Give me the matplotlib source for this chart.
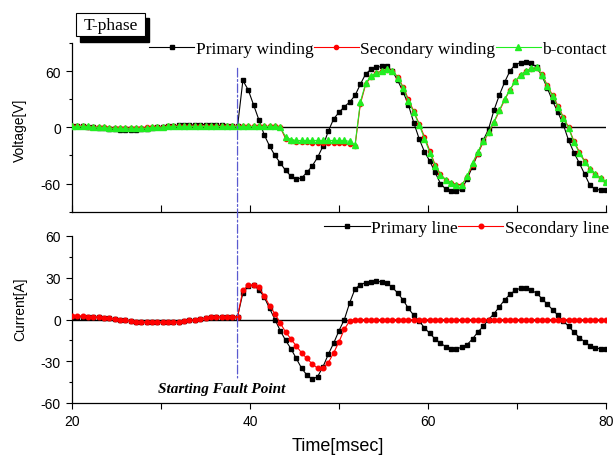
import matplotlib
matplotlib.use("Agg")
import matplotlib.pyplot as plt
from matplotlib.patches import ConnectionPatch, Rectangle
from matplotlib.ticker import MultipleLocator

plt.rcParams['axes.unicode_minus'] = False
plt.rcParams['font.family'] = ['Liberation Sans', 'DejaVu Sans']

# ---------------- data ----------------
time_ms = [20.0, 20.6, 21.2, 21.8, 22.4, 23.0, 23.6, 24.2, 24.8, 25.4, 26.0, 26.6, 27.2, 27.8,
           28.4, 29.0, 29.6, 30.2, 30.8, 31.4, 32.0, 32.6, 33.2, 33.8, 34.4, 35.0, 35.6, 36.2,
           36.8, 37.4, 38.0, 38.6, 39.2, 39.8, 40.4, 41.0, 41.6, 42.2, 42.8, 43.4, 44.0, 44.6,
           45.2, 45.8, 46.4, 47.0, 47.6, 48.2, 48.8, 49.4, 50.0, 50.6, 51.2, 51.8, 52.4, 53.0,
           53.6, 54.2, 54.8, 55.4, 56.0, 56.6, 57.2, 57.8, 58.4, 59.0, 59.6, 60.2, 60.8, 61.4,
           62.0, 62.6, 63.2, 63.8, 64.4, 65.0, 65.6, 66.2, 66.8, 67.4, 68.0, 68.6, 69.2, 69.8,
           70.4, 71.0, 71.6, 72.2, 72.8, 73.4, 74.0, 74.6, 75.2, 75.8, 76.4, 77.0, 77.6, 78.2,
           78.8, 79.4, 80.0]

fault_time = 38.6

v_primary_winding = [1, 1, 1, 0, 0, -1, -1, -2, -2, -3, -3, -3, -3, -2, -2, -1, 0, 0, 1, 1, 2, 2, 2, 3,
                     3, 3, 3, 2, 2, 1, 1, 1,
                     50, 40, 24, 8, -8, -20, -30, -38, -46, -52, -55, -54, -48, -41, -32, -20, -4, 9,
                     16, 22, 27, 34, 46, 57, 62, 64, 65, 65, 60, 50, 38, 24, 5, -12, -26, -36, -48,
                     -60, -66, -68, -68, -66, -55, -42, -28, -14, -2, 18, 34, 48, 60, 67, 69, 70, 69,
                     64, 55, 42, 28, 16, 3, -14, -27, -38, -50, -62, -66, -67, -67]

v_secondary_winding = [1, 1, 1, 0, 0, 0, 0, -1, -1, -1, -1, -1, -1, -1, 0, 0, 0, 0, 1, 1, 1, 1, 1, 1,
                       1, 1, 1, 1, 1, 1, 1, 1,
                       1, 1, 1, 1, 1, 1, 1, 0, -12, -15, -16, -16, -16, -17, -17, -17, -17, -17,
                       -17, -17, -18, -20, 25, 46, 54, 58, 60, 61, 60, 54, 43, 30, 17, 4, -10, -25,
                       -40, -50, -56, -59, -61, -61, -53, -40, -28, -16, -6, 5, 17, 29, 40, 49, 56,
                       60, 62, 63, 57, 45, 34, 23, 11, 0, -15, -26, -36, -44, -50, -54, -58]

v_b_contact = [1, 1, 1, 1, 0, 0, 0, -1, -1, -1, -1, -1, -1, -1, -1, 0, 0, 0, 1, 1, 1, 1, 1, 1,
               1, 1, 1, 1, 1, 1, 1, 1,
               1, 1, 1, 1, 1, 1, 1, 0, -10, -13, -14, -14, -14, -14, -14, -14, -14, -14, -14, -14,
               -15, -19, 27, 47, 55, 58, 60, 62, 60, 53, 42, 28, 16, 3, -12, -27, -41, -51, -56,
               -59, -62, -62, -52, -38, -26, -15, -5, 6, 18, 30, 40, 49, 56, 60, 63, 64, 56, 44,
               33, 22, 10, -1, -16, -27, -37, -44, -50, -54, -58]

i_primary_line = [2, 2, 2, 2, 2, 1.5, 1, 1, 0.5, 0, -0.5, -1, -1.5, -2, -2, -2, -2, -2, -2, -2,
                  -1.5, -1, -0.5, 0, 0.5, 1, 1.5, 2, 2, 2, 2, 2,
                  19, 24, 24.7, 21.5, 16, 8, 0, -8, -15, -21, -28, -35, -40, -43, -41, -34, -25,
                  -17, -8, 0, 12, 22, 25, 26.5, 27, 27.5, 27, 26, 23, 19, 14, 8, 3, -1, -6, -10,
                  -14, -17, -19.5, -21, -21, -20, -18, -14, -9, -5, 0, 4, 9, 14, 18, 21, 22.5,
                  22.5, 21, 19, 15, 11, 7, 3, -1, -5, -9, -13, -16, -19, -20.5, -21, -21]

i_secondary_line = [2.5, 2.5, 2.5, 2, 2, 1.5, 1, 1, 0.5, 0, -0.5, -1, -1.5, -2, -2, -2, -2, -2, -2,
                    -2, -1.5, -1, -0.5, 0, 0.5, 1, 1.5, 2, 2, 2, 2, 2,
                    21, 24.5, 25, 23, 17, 10, 4, -2.5, -9, -14, -19, -24, -28, -32, -35, -35, -31,
                    -24, -16, -7, -1, 0, 0, 0, 0, 0, 0, 0, 0, 0, 0, 0, 0, 0, 0, 0, 0, 0, 0, 0, 0,
                    0, 0, 0, 0, 0, 0, 0, 0, 0, 0, 0, 0, 0, 0, 0, 0, 0, 0, 0, 0, 0, 0, 0, 0, 0, 0,
                    0, 0]

voltage_labels = ['Primary winding', 'Secondary winding', 'b-contact']
current_labels = ['Primary line', 'Secondary line']

# ---------------- figure ----------------
W, H = 614, 464
fig = plt.figure(figsize=(W / 100, H / 100), dpi=100)

def fx(px):
    return px / W

def fy(py):
    return 1 - py / H

ax1 = fig.add_axes([fx(72), fy(212.7), fx(606) - fx(72), fy(44) - fy(212.7)])
ax2 = fig.add_axes([fx(72), fy(404), fx(606) - fx(72), fy(237) - fy(404)])

serif = ['Liberation Serif', 'DejaVu Serif']
lw = 0.8
green = '#22ee22'

# top panel
ax1.plot(time_ms, v_primary_winding, color='black', lw=lw, marker='s', ms=3.2,
         label=voltage_labels[0], zorder=3)
ax1.plot(time_ms, v_secondary_winding, color='red', lw=lw, marker='o', ms=3.0,
         label=voltage_labels[1], zorder=4)
ax1.plot(time_ms, v_b_contact, color=green, lw=lw, marker='^', ms=4.2,
         markeredgecolor=green, markerfacecolor=green, label=voltage_labels[2], zorder=5)
ax1.axhline(0, color='black', lw=1.0, zorder=2)
ax1.set_xlim(20, 80)
ax1.set_ylim(-90, 90)
ax1.yaxis.set_major_locator(MultipleLocator(60))
ax1.yaxis.set_minor_locator(MultipleLocator(30))
ax1.xaxis.set_major_locator(MultipleLocator(20))
ax1.xaxis.set_minor_locator(MultipleLocator(10))
ax1.tick_params(axis='x', which='both', direction='in', length=5, width=0.8, labelbottom=False)
ax1.tick_params(axis='y', which='major', direction='out', length=4, width=0.8, labelsize=10, pad=4)
ax1.tick_params(axis='y', which='minor', direction='out', length=2.5, width=0.8)
for s in ['top', 'right']:
    ax1.spines[s].set_visible(False)
for s in ['left', 'bottom']:
    ax1.spines[s].set_linewidth(0.9)

leg1 = ax1.legend(loc='upper right', bbox_to_anchor=(fx(607), fy(42)),
                  bbox_transform=fig.transFigure, ncol=3, frameon=False,
                  prop={'family': serif, 'size': 12.5}, handlelength=2.6,
                  handletextpad=0.1, columnspacing=0.0, borderpad=0, borderaxespad=0)

# bottom panel
ax2.plot(time_ms, i_primary_line, color='black', lw=lw, marker='s', ms=3.2,
         label=current_labels[0], zorder=3)
ax2.plot(time_ms, i_secondary_line, color='red', lw=lw, marker='o', ms=3.3,
         label=current_labels[1], zorder=4)
ax2.axhline(0, color='black', lw=1.0, zorder=2)
ax2.set_xlim(20, 80)
ax2.set_ylim(-60, 60)
ax2.yaxis.set_major_locator(MultipleLocator(30))
ax2.yaxis.set_minor_locator(MultipleLocator(15))
ax2.xaxis.set_major_locator(MultipleLocator(20))
ax2.xaxis.set_minor_locator(MultipleLocator(10))
ax2.tick_params(axis='x', which='both', direction='out', length=4, width=0.8, labelsize=10, pad=4)
ax2.tick_params(axis='y', which='major', direction='out', length=4, width=0.8, labelsize=10, pad=4)
ax2.tick_params(axis='y', which='minor', direction='out', length=2.5, width=0.8)
for s in ['top', 'right']:
    ax2.spines[s].set_visible(False)
for s in ['left', 'bottom']:
    ax2.spines[s].set_linewidth(0.9)

leg2 = ax2.legend(loc='upper right', bbox_to_anchor=(fx(609), fy(221)),
                  bbox_transform=fig.transFigure, ncol=2, frameon=False,
                  prop={'family': serif, 'size': 12.5}, handlelength=2.6,
                  handletextpad=0.1, columnspacing=0.0, borderpad=0, borderaxespad=0)

# axis labels
fig.text(fx(20), fy(130), 'Voltage[V]', rotation=90, ha='center', va='center', fontsize=10)
fig.text(fx(20), fy(309), 'Current[A]', rotation=90, ha='center', va='center', fontsize=10)
fig.text(fx(338), fy(447), 'Time[msec]', ha='center', va='center', fontsize=13)

# fault line crossing both panels
con = ConnectionPatch(xyA=(fault_time, 63), coordsA=ax1.transData,
                      xyB=(fault_time, -42), coordsB=ax2.transData,
                      color='#5a5ad0', lw=0.9, linestyle=(0, (7, 2, 1.5, 2)))
fig.add_artist(con)
fig.text(fx(222), fy(390), 'Starting Fault Point', ha='center', va='center',
         family=serif, style='italic', weight='bold', fontsize=11)

# T-phase box with shadow
shadow = Rectangle((fx(80), fy(43)), fx(149) - fx(80), fy(19) - fy(43),
                   transform=fig.transFigure, facecolor='black', edgecolor='black', zorder=10)
box = Rectangle((fx(76), fy(37)), fx(145) - fx(76), fy(14) - fy(37),
                transform=fig.transFigure, facecolor='white', edgecolor='black', lw=0.8, zorder=11)
fig.add_artist(shadow)
fig.add_artist(box)
fig.text(fx(110.5), fy(25.5), 'T-phase', ha='center', va='center', family=serif,
         fontsize=12.5, zorder=12)

fig.savefig('out.png', dpi=100)
